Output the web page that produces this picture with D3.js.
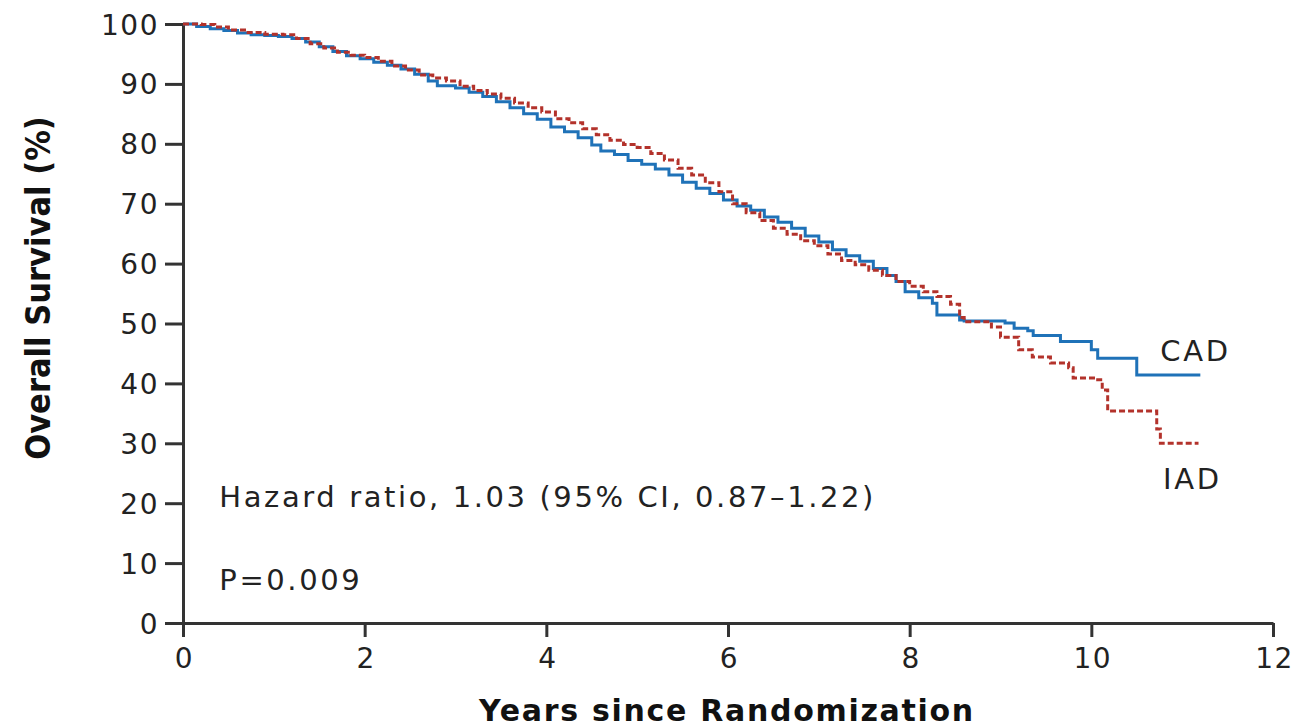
<!DOCTYPE html>
<html lang="en">
<head>
    <meta charset="UTF-8">
    <title>Overall Survival - CAD vs IAD</title>
    <style>
        body { margin: 0; background: #fff; }
        .axis path, .axis line { stroke: #333; stroke-width: 3; }
        .axis text { font-family: "DejaVu Sans", sans-serif; font-size: 28px; fill: #222; letter-spacing: 1.5px; }
        .note { font-family: "DejaVu Sans", sans-serif; font-size: 29px; fill: #222; letter-spacing: 2.6px; }
        .xtitle { font-family: "DejaVu Sans", sans-serif; font-weight: bold; fill: #111; font-size: 30px; letter-spacing: 1.7px; }
        .ytitle { font-family: "DejaVu Sans Condensed", "DejaVu Sans", sans-serif; font-stretch: condensed; font-weight: bold; fill: #111; font-size: 34px; }
    </style>
</head>
<body>
    <div id="chart"></div>
    <script src="https://d3js.org/d3.v7.min.js"></script>
    <script>
        // Kaplan-Meier estimates (years, % surviving)
        const cadYears = [0, 0.15, 0.3, 0.45, 0.6, 0.75, 0.9, 1.05, 1.2, 1.35, 1.5, 1.65, 1.8, 1.95, 2.1, 2.25, 2.4, 2.55, 2.7, 2.8, 3.0, 3.15, 3.3, 3.45, 3.6, 3.75, 3.9, 4.05, 4.2, 4.35, 4.5, 4.6, 4.75, 4.9, 5.05, 5.2, 5.35, 5.5, 5.65, 5.8, 5.95, 6.1, 6.25, 6.4, 6.55, 6.7, 6.85, 7.0, 7.15, 7.3, 7.45, 7.6, 7.75, 7.85, 7.95, 8.1, 8.25, 8.3, 8.55, 8.6, 9.05, 9.15, 9.3, 9.36, 9.66, 10.0, 10.07, 10.5, 11.2];
        const cadSurv = [100, 99.6, 99.2, 98.9, 98.5, 98.2, 98.1, 97.9, 97.6, 97.0, 96.2, 95.4, 94.7, 94.2, 93.6, 93.1, 92.5, 91.6, 90.5, 89.7, 89.3, 88.6, 87.9, 87.0, 86.0, 85.0, 84.1, 82.8, 82.0, 81.0, 79.8, 78.8, 78.2, 77.2, 76.6, 75.8, 74.8, 73.6, 72.6, 71.7, 70.6, 69.6, 68.9, 67.8, 66.9, 65.9, 64.6, 63.6, 62.3, 61.3, 60.4, 59.2, 58.0, 57.0, 55.3, 54.3, 53.4, 51.4, 50.6, 50.4, 50.1, 49.2, 48.8, 48.0, 47.0, 45.6, 44.2, 41.4, 41.4];

        const iadYears = [0, 0.2, 0.35, 0.5, 0.7, 0.9, 1.1, 1.25, 1.4, 1.55, 1.7, 1.85, 2.0, 2.15, 2.3, 2.45, 2.6, 2.75, 2.9, 3.05, 3.2, 3.35, 3.5, 3.65, 3.8, 3.95, 4.1, 4.25, 4.4, 4.55, 4.7, 4.85, 5.0, 5.15, 5.3, 5.45, 5.6, 5.75, 5.9, 6.05, 6.2, 6.35, 6.5, 6.65, 6.8, 6.95, 7.1, 7.25, 7.4, 7.55, 7.7, 7.85, 8.0, 8.15, 8.3, 8.45, 8.55, 8.6, 8.9, 9.0, 9.2, 9.35, 9.55, 9.75, 9.8, 10.05, 10.12, 10.18, 10.72, 10.76, 11.18];
        const iadSurv = [100, 99.9, 99.5, 99.0, 98.6, 98.3, 98.2, 97.6, 96.7, 96.0, 95.3, 94.8, 94.4, 93.8, 93.0, 92.3, 91.5, 91.0, 90.5, 89.6, 88.9, 88.3, 87.6, 86.8, 86.0, 85.3, 84.2, 83.5, 82.5, 81.5, 80.6, 79.9, 79.4, 78.4, 77.3, 75.9, 74.8, 73.5, 72.0, 70.0, 68.5, 67.2, 65.9, 64.9, 63.8, 63.0, 61.6, 60.5, 59.8, 58.9, 58.0, 57.0, 56.2, 55.3, 54.5, 53.2, 51.0, 50.3, 49.4, 47.7, 45.6, 44.4, 43.4, 42.6, 40.9, 40.6, 38.9, 35.4, 32.4, 30.0, 30.0];

        const xTicks = [0, 2, 4, 6, 8, 10, 12];
        const yTicks = [0, 10, 20, 30, 40, 50, 60, 70, 80, 90, 100];

        const W = 1301, H = 728;
        const margin = { top: 24, right: 28, bottom: 105, left: 183 };
        const width = W - margin.left - margin.right;
        const height = H - margin.top - margin.bottom;

        const svg = d3.select("#chart").append("svg")
            .attr("width", W)
            .attr("height", H);

        const g = svg.append("g")
            .attr("transform", `translate(${margin.left},${margin.top})`);

        const x = d3.scaleLinear().domain([0, 12]).range([0, width]);
        const y = d3.scaleLinear().domain([0, 100]).range([height, 0]);

        // axes
        g.append("g")
            .attr("class", "axis")
            .attr("transform", `translate(0,${height})`)
            .call(d3.axisBottom(x).tickValues(xTicks).tickSize(14).tickSizeOuter(0).tickPadding(11))
            .selectAll("text").attr("dx", "1px");

        g.append("g")
            .attr("class", "axis")
            .call(d3.axisLeft(y).tickValues(yTicks).tickSize(18).tickSizeOuter(0).tickPadding(6))
            .selectAll("text").attr("dy", "0.36em");

        // survival curves
        const line = d3.line()
            .x(d => x(d[0]))
            .y(d => y(d[1]))
            .curve(d3.curveStepAfter);

        const cad = cadYears.map((t, i) => [t, cadSurv[i]]);
        const iad = iadYears.map((t, i) => [t, iadSurv[i]]);

        g.append("path")
            .datum(cad)
            .attr("fill", "none")
            .attr("stroke", "#1f72b8")
            .attr("stroke-width", 3)
            .attr("d", line);

        g.append("path")
            .datum(iad)
            .attr("fill", "none")
            .attr("stroke", "#b3322b")
            .attr("stroke-width", 3)
            .attr("stroke-dasharray", "6,3")
            .attr("d", line);

        // series labels
        g.append("text").attr("class", "note")
            .attr("x", x(10.76)).attr("y", y(43.8))
            .text("CAD");
        g.append("text").attr("class", "note")
            .attr("x", x(10.79)).attr("y", y(22.3))
            .text("IAD");

        // annotations
        g.append("text").attr("class", "note")
            .attr("x", x(0.4)).attr("y", y(19.4))
            .text("Hazard ratio, 1.03 (95% CI, 0.87\u20131.22)");
        g.append("text").attr("class", "note")
            .attr("x", x(0.4)).attr("y", y(5.5))
            .text("P=0.009");

        // axis titles
        svg.append("text").attr("class", "xtitle")
            .attr("x", 727)
            .attr("y", 721)
            .attr("text-anchor", "middle")
            .text("Years since Randomization");

        svg.append("text").attr("class", "ytitle")
            .attr("transform", "translate(50,288) rotate(-90)")
            .attr("text-anchor", "middle")
            .text("Overall Survival (%)");
    </script>
</body>
</html>
